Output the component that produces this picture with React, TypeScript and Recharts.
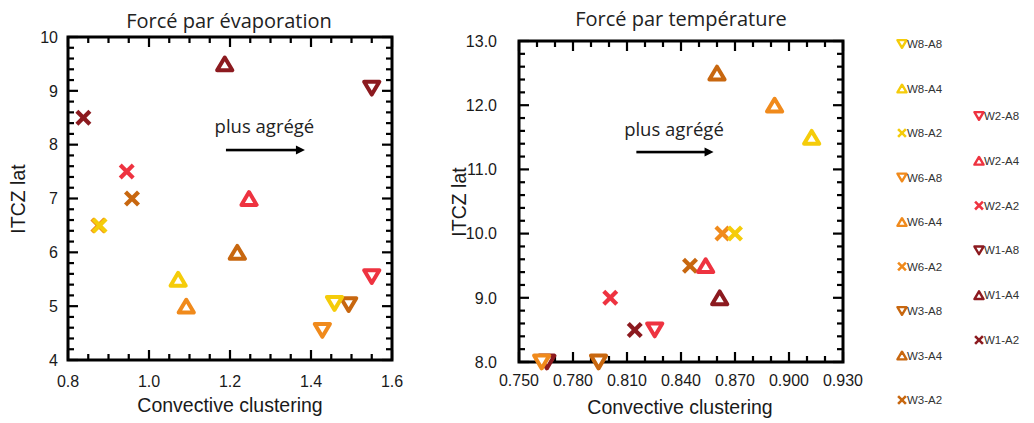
import React from 'react';
import { ScatterChart, Scatter, XAxis, YAxis, ReferenceLine, ReferenceArea } from 'recharts';

// ---- series (draw order) ----
const seriesNames = ['W1-A2', 'W1-A4', 'W1-A8', 'W3-A2', 'W3-A4', 'W3-A8', 'W2-A2', 'W2-A4', 'W2-A8', 'W6-A2', 'W6-A4', 'W6-A8', 'W8-A2', 'W8-A4', 'W8-A8'];
const seriesShapes = ['cross', 'up', 'down', 'cross', 'up', 'down', 'cross', 'up', 'down', 'cross', 'up', 'down', 'cross', 'up', 'down'];
const groupColors: Record<string, string> = {
  W1: '#8c1a1f',
  W2: '#ee3340',
  W3: '#c8670f',
  W6: '#f08a1c',
  W8: '#f5cc0a',
};

// ---- Forcé par évaporation ----
const evapX = [0.838, 1.187, 1.55, 0.958, 1.218, 1.493, 0.945, 1.247, 1.55, 0.875, 1.092, 1.428, 0.878, 1.072, 1.458];
const evapY = [8.5, 9.5, 9.05, 7.0, 6.0, 5.03, 7.5, 7.0, 5.55, 6.5, 5.0, 4.55, 6.5, 5.5, 5.05];

// ---- Forcé par température ----
const tempX = [0.8143, 0.8615, 0.7655, 0.845, 0.86, 0.7942, 0.8007, 0.8537, 0.8254, 0.863, 0.892, 0.7626, 0.87, 0.9126, null];
const tempY = [8.5, 9.0, 8.0, 9.5, 12.5, 8.0, 9.0, 9.5, 8.5, 10.0, 12.0, 8.0, 10.0, 11.5, null];

// ---- legend columns ----
const legendCol1 = ['W8-A8', 'W8-A4', 'W8-A2', 'W6-A8', 'W6-A4', 'W6-A2', 'W3-A8', 'W3-A4', 'W3-A2'];
const legendCol2 = ['W2-A8', 'W2-A4', 'W2-A2', 'W1-A8', 'W1-A4', 'W1-A2'];

// ---- ticks ----
const evapXTicks = [0.8, 1.0, 1.2, 1.4, 1.6];
const evapYTicks = [4, 5, 6, 7, 8, 9, 10];
const tempXTicks = [0.75, 0.78, 0.81, 0.84, 0.87, 0.9, 0.93];
const tempYTicks = [8, 9, 10, 11, 12, 13];

const withMinor = (majors: number[], n: number) => {
  const out: number[] = [];
  for (let i = 0; i < majors.length; i++) {
    out.push(majors[i]);
    if (i < majors.length - 1) {
      for (let k = 1; k <= n; k++) {
        out.push(Number((majors[i] + ((majors[i + 1] - majors[i]) * k) / (n + 1)).toFixed(5)));
      }
    }
  }
  return out;
};

const colorOf = (name: string) => groupColors[name.split('-')[0]];
const shapeOf = (name: string) => seriesShapes[seriesNames.indexOf(name)];

function Marker({ cx, cy, kind, color, s = 1 }: any) {
  if (cx == null || cy == null || isNaN(cx) || isNaN(cy)) return <g />;
  if (kind === 'cross') {
    const a = 6.5 * s;
    return (
      <g>
        <line x1={cx - a} y1={cy - a} x2={cx + a} y2={cy + a} stroke={color} strokeWidth={4.2 * s} />
        <line x1={cx - a} y1={cy + a} x2={cx + a} y2={cy - a} stroke={color} strokeWidth={4.2 * s} />
      </g>
    );
  }
  const hw = 7.6 * s;
  const hh = 6.4 * s;
  const pts =
    kind === 'up'
      ? `${cx},${cy - hh} ${cx + hw},${cy + hh} ${cx - hw},${cy + hh}`
      : `${cx},${cy + hh} ${cx + hw},${cy - hh} ${cx - hw},${cy - hh}`;
  return <polygon points={pts} fill="#fff" stroke={color} strokeWidth={4 * s} strokeLinejoin="round" />;
}

const TICK_FONT = "'Liberation Sans', Arial, Helvetica, sans-serif";
const TICK_SIZE = 16;
const TW = 2.2; // tick mark thickness

const isMajor = (majors: number[], v: number) => majors.some((m) => Math.abs(m - v) < 1e-7);

function makeLabel(side: 'bottom' | 'left', majors: number[], fmt: (v: number) => string, labelGap: number) {
  return function TickLabel(props: any) {
    const x = Number(props.x);
    const y = Number(props.y);
    const v = props.payload.value;
    if (!isMajor(majors, v)) return <g />;
    if (side === 'bottom')
      return (
        <text x={x} y={y + labelGap} textAnchor="middle" fontFamily={TICK_FONT} fontSize={TICK_SIZE} fill="#1a1a1a">
          {fmt(v)}
        </text>
      );
    return (
      <text x={x - labelGap} y={y + 5.7} textAnchor="end" fontFamily={TICK_FONT} fontSize={TICK_SIZE} fill="#1a1a1a">
        {fmt(v)}
      </text>
    );
  };
}

// inward tick mark, placed by the chart scales at a (tick value, axis edge) point
function TickMark(p: any) {
  const cx = Number(p.cx);
  const cy = Number(p.cy);
  if (isNaN(cx) || isNaN(cy)) return <g />;
  const side = p.payload ? p.payload.side : p.side;
  const major = p.payload ? p.payload.major : p.major;
  const len = major ? 10 : 6;
  if (side === 'bottom') return <rect x={cx - TW / 2} y={cy - len} width={TW} height={len} fill="#000" />;
  if (side === 'top') return <rect x={cx - TW / 2} y={cy} width={TW} height={len} fill="#000" />;
  if (side === 'left') return <rect x={cx} y={cy - TW / 2} width={len} height={TW} fill="#000" />;
  return <rect x={cx - len} y={cy - TW / 2} width={len} height={TW} fill="#000" />;
}

function Arrow(props: any) {
  const { x1, y1, x2, y2, text, gap } = props;
  const head = 9;
  const hw = 4.5;
  const mid = (x1 + x2) / 2;
  return (
    <g>
      <text x={mid - 1} y={y1 - gap} textAnchor="middle" fontFamily="'Open Sans', sans-serif" fontSize={18.5} fill="#222">
        {text}
      </text>
      <rect x={x1} y={y1 - 1.3} width={x2 - head + 1 - x1} height={2.6} fill="#000" />
      <polygon points={`${x2},${y2} ${x2 - head},${y2 - hw} ${x2 - head},${y2 + hw}`} fill="#000" />
    </g>
  );
}

function Panel({
  width,
  height,
  margin,
  xs,
  ys,
  xDomain,
  yDomain,
  xMajors,
  yMajors,
  xMinorN,
  yMinorN,
  xFmt,
  yFmt,
  xGap,
  yGap,
  arrow,
}: any) {
  const xTicks = withMinor(xMajors, xMinorN);
  const yTicks = withMinor(yMajors, yMinorN);
  const tickPoints = [
    ...xTicks.map((v) => ({ x: v, y: yDomain[0], side: 'bottom', major: isMajor(xMajors, v) })),
    ...xTicks.map((v) => ({ x: v, y: yDomain[1], side: 'top', major: isMajor(xMajors, v) })),
    ...yTicks.map((v) => ({ x: xDomain[0], y: v, side: 'left', major: isMajor(yMajors, v) })),
    ...yTicks.map((v) => ({ x: xDomain[1], y: v, side: 'right', major: isMajor(yMajors, v) })),
  ];
  return (
    <ScatterChart width={width} height={height} margin={margin}>
      <XAxis
        type="number"
        dataKey="x"
        domain={xDomain}
        ticks={xTicks}
        interval={0}
        height={1}
        tickSize={0}
        tickMargin={0}
        tickLine={false}
        axisLine={false}
        tick={makeLabel('bottom', xMajors, xFmt, xGap)}
      />
      <YAxis
        type="number"
        dataKey="y"
        domain={yDomain}
        ticks={yTicks}
        interval={0}
        width={1}
        tickSize={0}
        tickMargin={0}
        tickLine={false}
        axisLine={false}
        tick={makeLabel('left', yMajors, yFmt, yGap)}
      />
      <ReferenceArea
        x1={xDomain[0]}
        x2={xDomain[1]}
        y1={yDomain[0]}
        y2={yDomain[1]}
        ifOverflow="visible"
        fill="none"
        fillOpacity={0}
        stroke="#000"
        strokeWidth={3}
        strokeOpacity={1}
      />
      <ReferenceLine
        segment={[
          { x: arrow.x1, y: arrow.y },
          { x: arrow.x2, y: arrow.y },
        ]}
        shape={(p: any) => <Arrow {...p} text="plus agrégé" gap={arrow.gap} />}
      />
      <Scatter name="ticks" data={tickPoints} isAnimationActive={false} shape={(p: any) => <TickMark {...p} />} />
      {seriesNames.map((name, i) =>
        xs[i] == null ? null : (
          <Scatter
            key={name}
            name={name}
            data={[{ x: xs[i], y: ys[i] }]}
            isAnimationActive={false}
            shape={(p: any) => <Marker cx={p.cx} cy={p.cy} kind={seriesShapes[i]} color={colorOf(name)} />}
          />
        )
      )}
    </ScatterChart>
  );
}

const TITLE_FONT = "'Open Sans', sans-serif";
const LABEL_SIZE = 19.5;

export default function App() {
  return (
    <div style={{ position: 'absolute', left: 0, top: 0, width: 1034, height: 423, background: '#fff', overflow: 'hidden' }}>
      <svg width={1034} height={423} style={{ position: 'absolute', left: 0, top: 0 }}>
        <text x={229} y={28} textAnchor="middle" fontFamily={TITLE_FONT} fontSize={20} fill="#222">
          Forcé par évaporation
        </text>
        <text x={681} y={26} textAnchor="middle" fontFamily={TITLE_FONT} fontSize={20} fill="#222">
          Forcé par température
        </text>
        <text x={230} y={412} textAnchor="middle" fontFamily={TICK_FONT} fontSize={LABEL_SIZE} fill="#1a1a1a">
          Convective clustering
        </text>
        <text x={680} y={414} textAnchor="middle" fontFamily={TICK_FONT} fontSize={LABEL_SIZE} fill="#1a1a1a">
          Convective clustering
        </text>
        <text x={0} y={0} transform="translate(25,199) rotate(-90)" textAnchor="middle" fontFamily={TICK_FONT} fontSize={LABEL_SIZE} fill="#1a1a1a">
          ITCZ lat
        </text>
        <text x={0} y={0} transform="translate(466,202) rotate(-90)" textAnchor="middle" fontFamily={TICK_FONT} fontSize={LABEL_SIZE} fill="#1a1a1a">
          ITCZ lat
        </text>
        {legendCol1.map((name, i) => (
          <g key={name}>
            <Marker cx={902} cy={44 + i * 44.5} kind={shapeOf(name)} color={colorOf(name)} s={0.6} />
            <text x={907} y={44 + i * 44.5 + 4} fontFamily={TICK_FONT} fontSize={11.5} fill="#333">
              {name}
            </text>
          </g>
        ))}
        {legendCol2.map((name, i) => (
          <g key={name}>
            <Marker cx={979} cy={116 + i * 44.8} kind={shapeOf(name)} color={colorOf(name)} s={0.6} />
            <text x={984} y={116 + i * 44.8 + 4} fontFamily={TICK_FONT} fontSize={11.5} fill="#333">
              {name}
            </text>
          </g>
        ))}
      </svg>
      <div style={{ position: 'absolute', left: 0, top: 0 }}>
        <Panel
          width={420}
          height={423}
          margin={{ top: 37, right: 28, bottom: 62, left: 67 }}
          xs={evapX}
          ys={evapY}
          xDomain={[0.8, 1.6]}
          yDomain={[4, 10]}
          xMajors={evapXTicks}
          yMajors={evapYTicks}
          xMinorN={3}
          yMinorN={4}
          xFmt={(v: number) => v.toFixed(1)}
          yFmt={(v: number) => String(Math.round(v))}
          xGap={27}
          yGap={10}
          arrow={{ x1: 1.19, x2: 1.385, y: 7.9, gap: 17 }}
        />
      </div>
      <div style={{ position: 'absolute', left: 420, top: 0 }}>
        <Panel
          width={460}
          height={423}
          margin={{ top: 41, right: 37, bottom: 60, left: 98 }}
          xs={tempX}
          ys={tempY}
          xDomain={[0.75, 0.93]}
          yDomain={[8, 13]}
          xMajors={tempXTicks}
          yMajors={tempYTicks}
          xMinorN={2}
          yMinorN={4}
          xFmt={(v: number) => v.toFixed(3)}
          yFmt={(v: number) => v.toFixed(1)}
          xGap={24}
          yGap={22}
          arrow={{ x1: 0.8152, x2: 0.8581, y: 11.27, gap: 16 }}
        />
      </div>
    </div>
  );
}
